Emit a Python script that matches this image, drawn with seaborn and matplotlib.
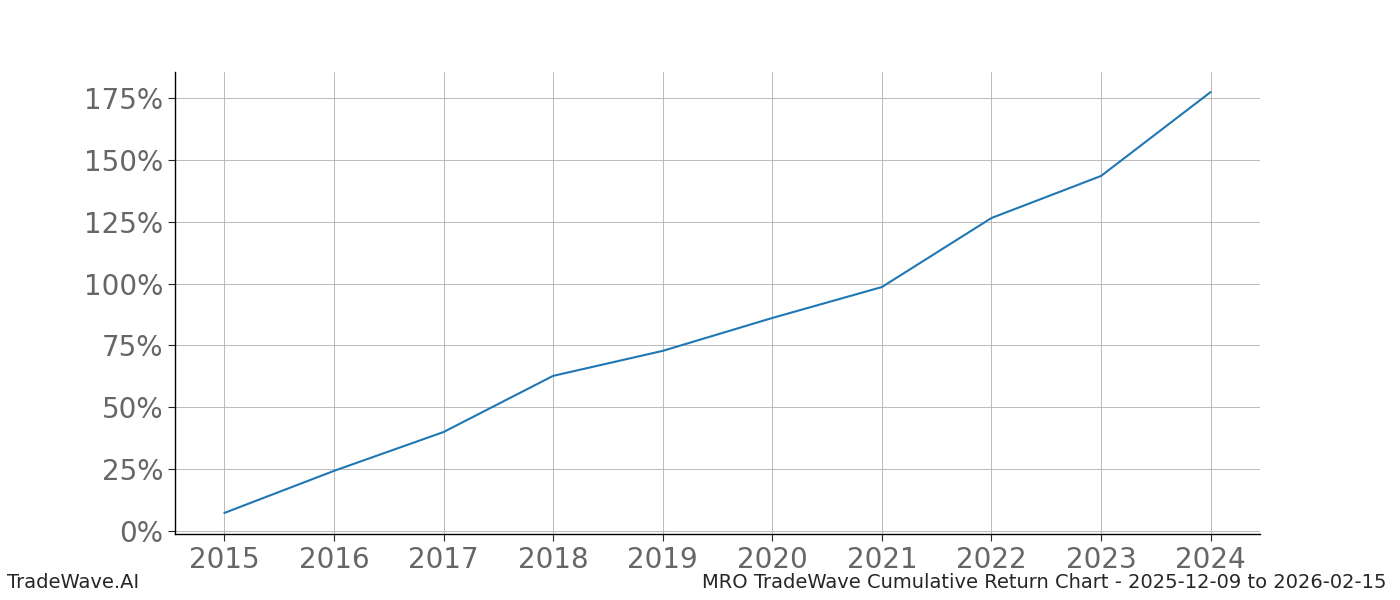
import matplotlib
matplotlib.use("Agg")
import matplotlib.pyplot as plt
import seaborn as sns
import pandas as pd
from matplotlib.ticker import FuncFormatter

years = [2015, 2016, 2017, 2018, 2019, 2020, 2021, 2022, 2023, 2024]
returns = [7.3, 24.3, 40.0, 62.7, 72.8, 86.1, 98.6, 126.5, 143.5, 177.4]

sns.set_style("white")
plt.rcParams['font.family'] = ['DejaVu Sans']
df = pd.DataFrame({"year": years, "ret": returns})

fig = plt.figure(figsize=(14, 6), dpi=100)
ax = fig.add_axes([0.125, 0.11, 0.775, 0.77])
sns.lineplot(data=df, x="year", y="ret", ax=ax, color="#1f77b4", linewidth=1.5)
ax.set_xlim(2014.55, 2024.45)
ax.set_ylim(-1.2, 185.5)
ax.set_xticks(years)
ax.set_yticks([0, 25, 50, 75, 100, 125, 150, 175])
ax.yaxis.set_major_formatter(FuncFormatter(lambda v, p: f"{int(v)}%"))
ax.grid(True, color="#b0b0b0", linewidth=0.6)
ax.tick_params(axis="both", labelsize=20, labelcolor="#666666", length=5, left=True, bottom=True)
for s in ["top", "right"]:
    ax.spines[s].set_visible(False)
for s in ["left", "bottom"]:
    ax.spines[s].set_color("black")
    ax.spines[s].set_linewidth(1)
ax.set_xlabel("")
ax.set_ylabel("")
fig.text(0.005, 0.02, "TradeWave.AI", fontsize=14)
fig.text(0.99, 0.02, "MRO TradeWave Cumulative Return Chart - 2025-12-09 to 2026-02-15", fontsize=14, ha="right")
fig.savefig("out.png", dpi=100)
